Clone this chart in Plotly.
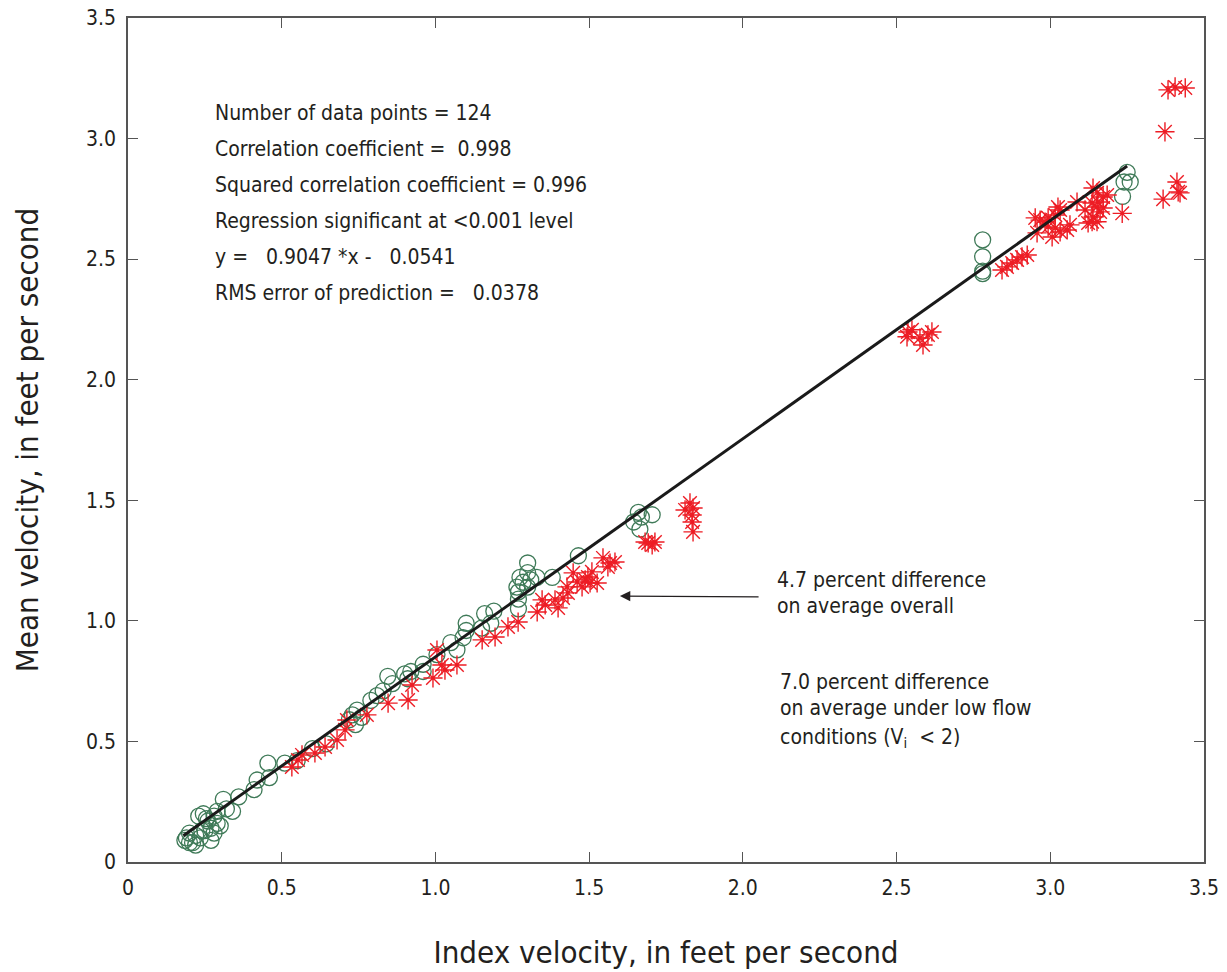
import plotly.graph_objects as go

# Green circles (index velocity, mean velocity)
green_x = [0.185, 0.19, 0.20, 0.21, 0.22, 0.235, 0.24, 0.25, 0.255, 0.26, 0.27, 0.27, 0.28, 0.29, 0.29,
           0.30, 0.31, 0.32, 0.34, 0.36, 0.23, 0.20, 0.245, 0.28, 0.22,
           0.41, 0.42, 0.455, 0.46, 0.51, 0.55, 0.60, 0.645, 0.72, 0.73, 0.745, 0.76, 0.74, 0.79,
           0.81, 0.83, 0.845, 0.86, 0.90, 0.92, 0.91, 0.96, 0.96, 1.005, 1.05, 1.07, 1.09, 1.10,
           1.10, 1.15, 1.16, 1.19, 1.18, 1.27, 1.27, 1.27, 1.30, 1.30, 1.275, 1.31, 1.285, 1.33,
           1.30, 1.265, 1.38, 1.465, 1.66, 1.645, 1.665, 1.705, 1.67,
           2.78, 2.78, 2.78, 2.78, 3.25, 3.24, 3.26, 3.235]
green_y = [0.09, 0.10, 0.12, 0.08, 0.07, 0.10, 0.13, 0.13, 0.18, 0.17, 0.14, 0.09, 0.19, 0.16, 0.21,
           0.15, 0.26, 0.22, 0.21, 0.27, 0.19, 0.08, 0.20, 0.12, 0.11,
           0.30, 0.34, 0.41, 0.35, 0.41, 0.42, 0.47, 0.49, 0.59, 0.61, 0.63, 0.60, 0.57, 0.67,
           0.69, 0.71, 0.77, 0.74, 0.78, 0.79, 0.76, 0.82, 0.79, 0.86, 0.91, 0.88, 0.93, 0.96,
           0.99, 0.97, 1.03, 1.04, 0.99, 1.05, 1.09, 1.12, 1.24, 1.20, 1.18, 1.17, 1.16, 1.18,
           1.14, 1.14, 1.18, 1.27, 1.45, 1.41, 1.38, 1.44, 1.43,
           2.58, 2.51, 2.45, 2.44, 2.86, 2.82, 2.82, 2.76]

# Red asterisks
red_x = [0.533, 0.553, 0.566, 0.608, 0.641, 0.680, 0.706, 0.712, 0.777, 0.846, 0.911, 0.924, 0.992,
         1.005, 1.021, 1.031, 1.070,
         1.152, 1.194, 1.236, 1.269, 1.331, 1.357, 1.347, 1.399, 1.389, 1.415, 1.431, 1.428, 1.448,
         1.461, 1.487, 1.496, 1.509, 1.526, 1.503, 1.477, 1.545, 1.568, 1.584, 1.561,
         1.692, 1.682, 1.714, 1.705, 1.828, 1.838, 1.812, 1.835, 1.835, 1.838,
         2.537, 2.550, 2.534, 2.576, 2.586, 2.615, 2.602,
         2.843, 2.859, 2.876, 2.892, 2.908, 2.925, 2.951, 2.967, 2.983, 2.993, 3.016, 3.032, 3.025,
         2.957, 2.993, 3.016, 3.032, 3.055, 3.064, 3.006, 3.087, 3.113, 3.139, 3.152, 3.172, 3.185,
         3.136, 3.152, 3.162, 3.139, 3.136, 3.123, 3.152, 3.172, 3.155, 3.234,
         3.367, 3.412, 3.416, 3.422, 3.383, 3.406, 3.439, 3.373]
red_y = [0.394, 0.423, 0.444, 0.452, 0.477, 0.506, 0.548, 0.589, 0.610, 0.659, 0.672, 0.734, 0.763,
         0.879, 0.817, 0.796, 0.817,
         0.921, 0.933, 0.975, 0.995, 1.037, 1.066, 1.087, 1.054, 1.087, 1.095, 1.116, 1.141, 1.199,
         1.161, 1.170, 1.182, 1.203, 1.157, 1.157, 1.141, 1.261, 1.240, 1.244, 1.224,
         1.323, 1.327, 1.327, 1.315, 1.489, 1.468, 1.460, 1.439, 1.410, 1.369,
         2.198, 2.207, 2.178, 2.173, 2.144, 2.198, 2.186,
         2.455, 2.468, 2.484, 2.497, 2.509, 2.517, 2.671, 2.662, 2.654, 2.671, 2.683, 2.704, 2.716,
         2.609, 2.634, 2.629, 2.613, 2.621, 2.642, 2.592, 2.737, 2.704, 2.795, 2.775, 2.758, 2.766,
         2.733, 2.716, 2.696, 2.675, 2.655, 2.650, 2.655, 2.712, 2.737, 2.690,
         2.749, 2.820, 2.779, 2.775, 3.202, 3.214, 3.210, 3.028]

# Regression
slope = 0.9047
intercept = -0.0541
fit_x = [0.18, 3.25]
fit_y = [slope * v + intercept for v in fit_x]

tick_vals = [0, 0.5, 1.0, 1.5, 2.0, 2.5, 3.0, 3.5]
tick_text = ["0", "0.5", "1.0", "1.5", "2.0", "2.5", "3.0", "3.5"]

stats_lines = [
    "Number of data points = 124",
    "Correlation coefficient =  0.998",
    "Squared correlation coefficient = 0.996",
    "Regression significant at <0.001 level",
    "y =   0.9047 *x -   0.0541",
    "RMS error of prediction =   0.0378",
]

FONT = "Liberation Sans Narrow, DejaVu Sans Condensed, Arial Narrow, sans-serif"
TXT = "#231f20"

fig = go.Figure()
fig.add_trace(go.Scatter(x=green_x, y=green_y, mode="markers",
                         marker=dict(symbol="circle-open", size=16, color="#3f7a58",
                                     line=dict(width=1.3, color="#3f7a58")),
                         showlegend=False))
fig.add_trace(go.Scatter(x=red_x, y=red_y, mode="markers",
                         marker=dict(symbol="asterisk-open", size=16, color="#ed1c24",
                                     line=dict(width=1.4, color="#ed1c24")),
                         showlegend=False))
fig.add_trace(go.Scatter(x=fit_x, y=fit_y, mode="lines",
                         line=dict(color="#1a1a1a", width=3), showlegend=False))

annotations = []
y0 = 3.107
dy = 0.1495
for i, s in enumerate(stats_lines):
    annotations.append(dict(x=0.2765, y=y0 - i * dy, xref="x", yref="y", text=s,
                            showarrow=False, xanchor="left", yanchor="middle",
                            font=dict(size=21, color=TXT, family=FONT)))
for s, yy in [("4.7 percent difference", 1.170), ("on average overall", 1.062)]:
    annotations.append(dict(x=2.105, y=yy, xref="x", yref="y", text=s, showarrow=False,
                            xanchor="left", yanchor="middle",
                            font=dict(size=21, color=TXT, family=FONT)))
for s, yy in [("7.0 percent difference", 0.747), ("on average under low flow", 0.639),
              ("conditions (V<sub>i</sub>  < 2)", 0.514)]:
    annotations.append(dict(x=2.115, y=yy, xref="x", yref="y", text=s, showarrow=False,
                            xanchor="left", yanchor="middle",
                            font=dict(size=21, color=TXT, family=FONT)))
# arrow
annotations.append(dict(x=1.60, y=1.103, ax=2.056, ay=1.099, xref="x", yref="y",
                        axref="x", ayref="y", text="", showarrow=True, arrowhead=2,
                        arrowsize=1.6, arrowwidth=1.3, arrowcolor="#231f20"))

axis_common = dict(
    range=[0, 3.5], tickvals=tick_vals, ticktext=tick_text, ticks="inside", ticklen=10,
    tickwidth=1.2, tickcolor="#555", showline=True, linecolor="#555", linewidth=1.5,
    mirror="ticks", showgrid=False, zeroline=False, automargin=False,
    tickfont=dict(size=21, color=TXT, family=FONT),
)

fig.update_layout(
    width=1227, height=972,
    margin=dict(l=128, r=23, t=18, b=110),
    plot_bgcolor="white", paper_bgcolor="white",
    xaxis=dict(**axis_common,
               title=dict(text="Index velocity, in feet per second",
                          font=dict(size=31, color=TXT, family=FONT), standoff=42)),
    yaxis=dict(**axis_common,
               title=dict(text="Mean velocity, in feet per second",
                          font=dict(size=31, color=TXT, family=FONT), standoff=38)),
    annotations=annotations,
)
fig.update_xaxes(ticklabelstandoff=6)
fig.update_yaxes(ticklabelstandoff=6)

fig.write_html("out.html")
